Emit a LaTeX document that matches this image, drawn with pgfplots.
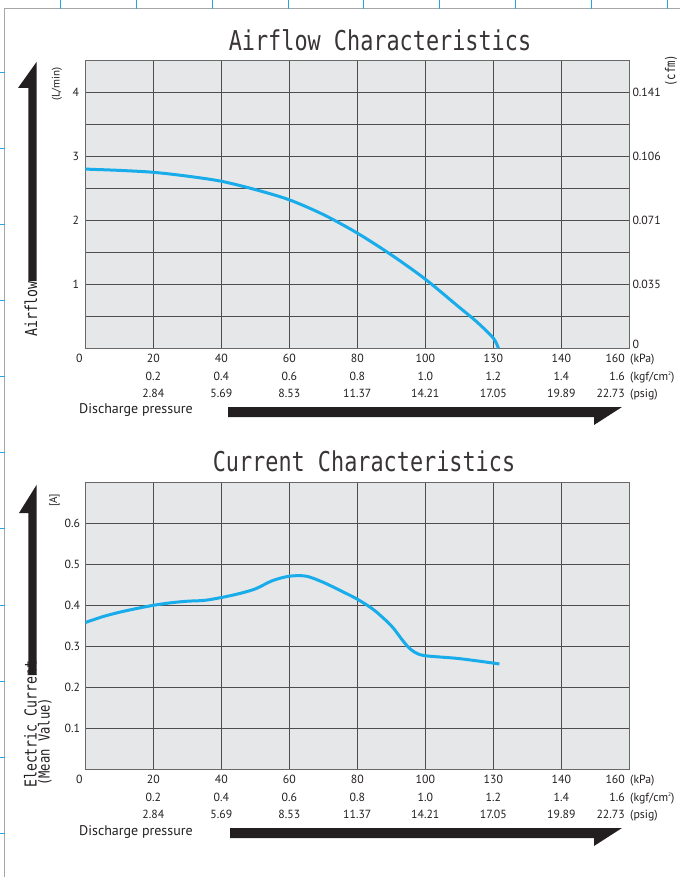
\documentclass[border=0pt]{standalone}
\usepackage{pgfplots}
\pgfplotsset{compat=1.18}
\usepackage{fontspec}
\setmainfont{PT Sans}
\newfontfamily\monofont[FakeStretch=0.8]{DejaVu Sans Mono}

\definecolor{plotbg}{HTML}{E6E7E8}
\definecolor{gridc}{HTML}{4D4D4D}
\definecolor{curve}{HTML}{18ACEB}
\definecolor{pageblue}{HTML}{2AA6DF}
\definecolor{ink}{HTML}{231F20}
\newcommand{\ticks}{\fontsize{11.8}{17.5}\selectfont}
\newcommand{\sqr}{\raisebox{0.75ex}{\fontsize{5.5}{5.5}\selectfont 2}}

\pgfplotsset{
  fanchart/.style={
    scale only axis, width=544pt, height=288pt, anchor=south west,
    xmin=0, xmax=160, ymin=0,
    axis background/.style={fill=plotbg},
    xtick={20,40,...,140},
    xticklabels={{20\\0.2\\2.84},{40\\0.4\\5.69},{60\\0.6\\8.53},{80\\0.8\\11.37},
                 {100\\1.0\\14.21},{130\\1.2\\17.05},{140\\1.4\\19.89}},
    xticklabel style={align=center, font=\ticks, inner sep=0pt, yshift=-6pt, text=ink},
    yticklabel style={font=\ticks, inner sep=0pt, xshift=-6pt, text=ink},
    major tick length=0pt, minor tick length=0pt,
    grid=both,
    major grid style={gridc, line width=1pt},
    minor grid style={gridc, line width=1pt},
    axis line style={gridc!85, line width=1.2pt},
    extra x ticks={0}, extra x tick labels={0},
    extra x tick style={grid=none, xticklabel style={xshift=-6pt}},
  }
}

\begin{document}
\begin{tikzpicture}
\path[use as bounding box] (0pt,0pt) rectangle (680pt,-877pt);

% page frame and registration ticks
\draw[gray!70, line width=1pt] (4.5pt,-877pt) -- (4.5pt,-9pt) -- (680pt,-9pt);
\foreach \k in {0,...,8}
  \draw[pageblue, line width=1pt] (60.3pt+75.9pt*\k,0pt) -- (60.3pt+75.9pt*\k,-9pt);
\foreach \k in {0,...,10}
  \draw[pageblue, line width=1pt] (0pt,-72.3pt-76.1pt*\k) -- (4.5pt,-72.3pt-76.1pt*\k);

% ---------------- Airflow ----------------
\begin{axis}[fanchart, at={(85.3pt,-348.3pt)},
    ymax=4.5, ytick={1,2,3,4}, yticklabels={1,2,3,4},
    minor ytick={0.5,1.5,2.5,3.5}]
  % airflow in L/min vs discharge pressure in kPa
  \addplot[curve, line width=3pt, smooth] coordinates {
    (0,2.80) (10,2.78) (20,2.75) (30,2.69) (40,2.61) (50,2.48)
    (60,2.32) (70,2.09) (80,1.80) (90,1.46) (100,1.08) (110,0.64)
    (115,0.42) (120,0.16) (121.5,0)
  };
\end{axis}
% right-hand cfm scale
\begin{axis}[scale only axis, width=544pt, height=288pt, anchor=south west,
    at={(85.3pt,-348.3pt)}, xmin=0, xmax=160, ymin=0, ymax=4.5,
    axis x line=none, axis y line*=right, axis line style={draw=none},
    major tick length=0pt,
    ytick={1,2,3,4}, yticklabels={0.035,0.071,0.106,0.141},
    extra y ticks={0}, extra y tick labels={0},
    extra y tick style={yticklabel style={yshift=4pt}},
    yticklabel style={font=\ticks, inner sep=0pt, xshift=3pt, anchor=west, text=ink}]
\end{axis}

\node[font=\monofont\fontsize{27.3}{27}\selectfont, text=ink!90, inner sep=0pt]
  at (380pt,-40pt) {Airflow Characteristics};
\node[rotate=90, anchor=base west, inner sep=0pt, text=ink,
      font=\monofont\fontsize{16.5}{16.5}\selectfont] at (37pt,-337pt) {Airflow};
\node[rotate=90, anchor=base west, inner sep=0pt, text=ink,
      font=\fontsize{11}{11}\selectfont] at (59.5pt,-101pt) {(L/min)};
\node[rotate=90, anchor=base west, inner sep=0pt, text=ink,
      font=\monofont\fontsize{13.3}{13.3}\selectfont] at (675pt,-87pt) {(cfm)};
\fill[ink] (36.5pt,-62pt) -- (36.5pt,-281pt) -- (28.3pt,-281pt) -- (28.3pt,-88pt)
  -- (18pt,-88pt) -- cycle;
\node[anchor=north east, align=right, font=\ticks, inner sep=0pt, text=ink]
  at (625pt,-354.3pt) {160\\1.6\\22.73};
\node[anchor=north west, align=left, font=\ticks, inner sep=0pt, text=ink]
  at (630pt,-354.3pt) {(kPa)\\(kgf/cm\sqr)\\(psig)};
\node[anchor=west, inner sep=0pt, text=ink, font=\fontsize{14}{14}\selectfont]
  at (79pt,-410pt) {Discharge pressure};
\fill[ink] (228pt,-407pt) -- (622pt,-407pt) -- (594pt,-425pt) -- (594pt,-417pt)
  -- (228pt,-417pt) -- cycle;

% ---------------- Current ----------------
\begin{axis}[fanchart, at={(85.3pt,-769.3pt)}, height=287pt,
    ymax=0.7, ytick={0.1,0.2,...,0.6},
    yticklabels={0.1,0.2,0.3,0.4,0.5,0.6},
    yticklabel style={xshift=1pt}]
  % mean current in A vs discharge pressure in kPa
  \addplot[curve, line width=3pt, smooth] coordinates {
    (0,0.358) (5,0.372) (10,0.383) (15,0.392) (20,0.400) (25,0.406)
    (30,0.410) (35,0.412) (40,0.419) (45,0.428) (50,0.440) (55,0.460)
    (60,0.471) (65,0.471) (70,0.456) (75,0.436) (80,0.415) (85,0.388)
    (90,0.350) (93,0.318) (95,0.298) (97,0.285) (100,0.277) (110,0.270)
    (121.8,0.257)
  };
\end{axis}

\node[font=\monofont\fontsize{27.3}{27}\selectfont, text=ink!90, inner sep=0pt]
  at (364pt,-461pt) {Current Characteristics};
\fill[ink] (36.5pt,-485pt) -- (36.5pt,-675pt) -- (28.3pt,-675pt) -- (28.3pt,-513pt)
  -- (19pt,-513pt) -- cycle;
\node[rotate=90, anchor=base west, inner sep=0pt, text=ink,
      font=\monofont\fontsize{16.5}{16.5}\selectfont] at (36.7pt,-788pt) {Electric Current};
\node[rotate=90, anchor=base west, inner sep=0pt, text=ink,
      font=\monofont\fontsize{15.2}{15.2}\selectfont] at (49.5pt,-786pt) {(Mean Value)};
\node[rotate=90, anchor=base west, inner sep=0pt, text=ink,
      font=\fontsize{11}{11}\selectfont] at (57pt,-507pt) {[A]};
\node[anchor=north east, align=right, font=\ticks, inner sep=0pt, text=ink]
  at (625pt,-775.3pt) {160\\1.6\\22.73};
\node[anchor=north west, align=left, font=\ticks, inner sep=0pt, text=ink]
  at (630pt,-775.3pt) {(kPa)\\(kgf/cm\sqr)\\(psig)};
\node[anchor=west, inner sep=0pt, text=ink, font=\fontsize{14}{14}\selectfont]
  at (79pt,-832pt) {Discharge pressure};
\fill[ink] (230pt,-828pt) -- (622pt,-828pt) -- (594pt,-846pt) -- (594pt,-838pt)
  -- (230pt,-838pt) -- cycle;
\end{tikzpicture}
\end{document}
